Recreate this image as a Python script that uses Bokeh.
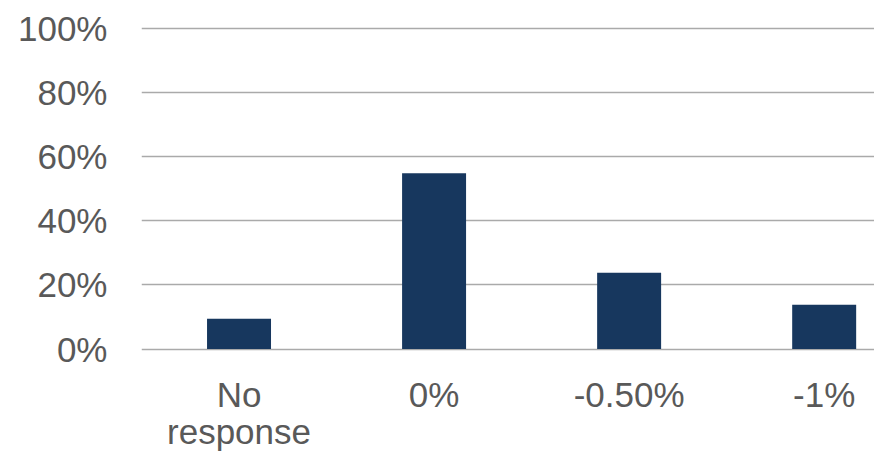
from bokeh.plotting import figure
from bokeh.models import Range1d, FixedTicker, NumeralTickFormatter, ColumnDataSource
from bokeh.embed import file_html
from bokeh.resources import INLINE

# Survey responses: share of respondents per answer
categories = ["No\nresponse", "0%", "-0.50%", "-1%"]
shares = [0.094, 0.548, 0.238, 0.138]
y_ticks = [0.0, 0.2, 0.4, 0.6, 0.8, 1.0]

positions = list(range(len(categories)))
source = ColumnDataSource(data=dict(x=positions, top=shares))

p = figure(
    width=874, height=453,
    x_range=Range1d(-0.5, 3.258),
    y_range=Range1d(-0.0171, 1.024),
    output_backend="svg", toolbar_location=None,
    min_border_left=141, min_border_right=0,
    min_border_top=20, min_border_bottom=90,
)
p.outline_line_color = None
p.background_fill_color = "white"
p.border_fill_color = "white"

p.vbar(x="x", top="top", bottom=0, width=0.328, source=source,
       fill_color="#17375E", line_color=None)

label_font = "Liberation Sans"
label_color = "#595959"

# y axis: percentages, no line or ticks
p.yaxis.ticker = FixedTicker(ticks=y_ticks)
p.yaxis.formatter = NumeralTickFormatter(format="0%")
p.yaxis.axis_line_color = None
p.yaxis.major_tick_line_color = None
p.yaxis.minor_tick_line_color = None
p.yaxis.major_label_standoff = 28
p.yaxis.major_label_text_font = label_font
p.yaxis.major_label_text_font_size = "35px"
p.yaxis.major_label_text_color = label_color

# x axis: category names
p.xaxis.ticker = FixedTicker(ticks=positions)
p.xaxis.major_label_overrides = {i: c for i, c in zip(positions, categories)}
p.xaxis.axis_line_color = None
p.xaxis.major_tick_line_color = None
p.xaxis.minor_tick_line_color = None
p.xaxis.major_label_standoff = 14
p.xaxis.major_label_text_font = label_font
p.xaxis.major_label_text_font_size = "35px"
p.xaxis.major_label_text_color = label_color
p.xaxis.major_label_text_line_height = 0.95

p.xgrid.grid_line_color = None
p.ygrid.ticker = FixedTicker(ticks=y_ticks)
p.ygrid.grid_line_color = "#aaaaaa"
p.ygrid.grid_line_width = 1.5

open("out.html", "w").write(file_html(p, INLINE))
